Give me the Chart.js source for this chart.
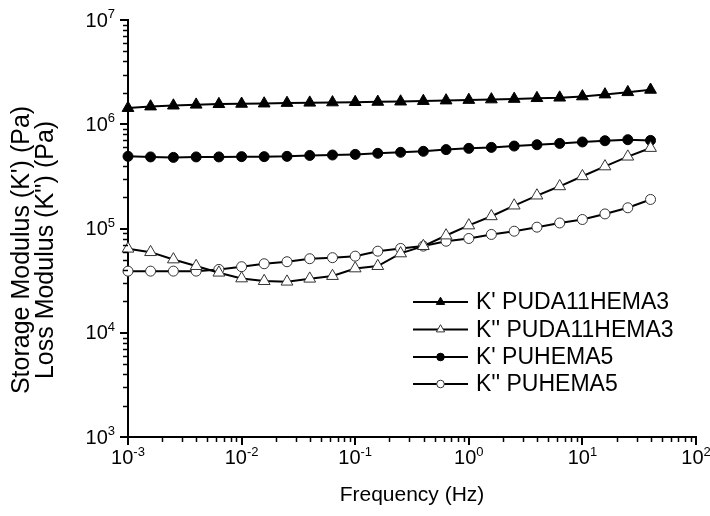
<!DOCTYPE html>
<html>
<head>
<meta charset="utf-8">
<script src="https://cdn.jsdelivr.net/npm/chart.js@4/dist/chart.umd.min.js"></script>
<style>
  html, body { margin: 0; padding: 0; background: #fff; }
  #wrap { width: 710px; height: 516px; }
</style>
</head>
<body>
<div id="wrap"><canvas id="chart" width="710" height="516"></canvas></div>
<script>
// frequency (Hz)
const freq = [0.001, 0.00158, 0.00251, 0.00398, 0.00631, 0.01, 0.0158, 0.0251, 0.0398, 0.0631,
  0.1, 0.158, 0.251, 0.398, 0.631, 1, 1.58, 2.51, 3.98, 6.31, 10, 15.8, 25.1, 39.8];

// K' PUDA11HEMA3
const kStoragePuda = [1.43e6, 1.48e6, 1.51e6, 1.54e6, 1.56e6, 1.57e6, 1.58e6, 1.60e6, 1.61e6, 1.62e6,
  1.63e6, 1.64e6, 1.65e6, 1.67e6, 1.69e6, 1.71e6, 1.73e6, 1.75e6, 1.78e6, 1.80e6, 1.85e6, 1.93e6, 2.03e6, 2.14e6];
// K'' PUDA11HEMA3
const kLossPuda = [6.40e4, 5.93e4, 5.05e4, 4.36e4, 3.77e4, 3.32e4, 3.13e4, 3.09e4, 3.30e4, 3.50e4,
  4.14e4, 4.36e4, 5.77e4, 6.78e4, 8.57e4, 1.07e5, 1.31e5, 1.66e5, 2.07e5, 2.54e5, 3.17e5, 3.94e5, 4.89e5, 5.92e5];
// K' PUHEMA5
const kStorageHema = [4.92e5, 4.86e5, 4.81e5, 4.86e5, 4.86e5, 4.89e5, 4.89e5, 4.92e5, 5.02e5, 5.07e5,
  5.14e5, 5.26e5, 5.38e5, 5.50e5, 5.71e5, 5.87e5, 6.00e5, 6.18e5, 6.36e5, 6.55e5, 6.76e5, 6.95e5, 7.11e5, 7.00e5];
// K'' PUHEMA5
const kLossHema = [3.90e4, 3.90e4, 3.90e4, 3.90e4, 4.05e4, 4.30e4, 4.59e4, 4.80e4, 5.13e4, 5.25e4,
  5.43e4, 6.06e4, 6.44e4, 6.78e4, 7.55e4, 8.02e4, 8.77e4, 9.42e4, 1.03e5, 1.13e5, 1.22e5, 1.38e5, 1.58e5, 1.90e5];

const seriesNames = ["K' PUDA11HEMA3", "K'' PUDA11HEMA3", "K' PUHEMA5", "K'' PUHEMA5"];

// decade exponents used for the tick labels
const xTickExps = [-3, -2, -1, 0, 1, 2];
const yTickExps = [3, 4, 5, 6, 7];

const yTitleLines = ["Storage Modulus (K') (Pa)", "Loss Modulus (K'') (Pa)"];
const xTitle = 'Frequency (Hz)';

const FONT = "'Liberation Sans', Arial, sans-serif";

function toPts(ys) { return freq.map((f, i) => ({x: f, y: ys[i]})); }

function logTicks(exps) {
  const t = [];
  exps.forEach((e, i) => {
    for (let m = 1; m <= 9; m++) {
      if (i === exps.length - 1 && m > 1) break;
      t.push({value: m * Math.pow(10, e), major: m === 1, label: ''});
    }
  });
  return t;
}

function series(label, ys, style, filled, r) {
  return {
    label, data: toPts(ys),
    borderColor: '#000', borderWidth: 2, tension: 0, clip: false,
    pointStyle: style, pointRadius: r, pointHoverRadius: r,
    pointBackgroundColor: filled ? '#000' : '#fff',
    pointBorderColor: filled ? '#000' : '#333',
    pointBorderWidth: 1
  };
}

// draws "10" with a raised exponent
function powText(ctx, exp, x, y, align, rise) {
  ctx.font = '20px ' + FONT;
  const w10 = ctx.measureText('10').width;
  ctx.font = '13px ' + FONT;
  const we = ctx.measureText(exp).width;
  const total = w10 + we;
  const left = align === 'center' ? x - total / 2 : x - total;
  ctx.textAlign = 'left';
  ctx.textBaseline = 'middle';
  ctx.font = '20px ' + FONT;
  ctx.fillText('10', left, y);
  ctx.font = '13px ' + FONT;
  ctx.fillText(exp, left + w10, y - rise);
}

// minor ticks, decade labels, y axis title and the line+marker legend
const extras = {
  id: 'extras',
  afterDraw(chart) {
    const ctx = chart.ctx;
    const xs = chart.scales.x, ys = chart.scales.y;
    ctx.save();
    ctx.strokeStyle = '#000';
    ctx.fillStyle = '#000';
    ctx.lineWidth = 1.5;
    xs.ticks.forEach(t => {
      const px = xs.getPixelForValue(t.value);
      if (t.major) {
        powText(ctx, String(Math.round(Math.log10(t.value))), px, 458, 'center', 5.5);
        return;
      }
      const rx = Math.round(px) + 0.5;
      ctx.beginPath(); ctx.moveTo(rx, xs.top); ctx.lineTo(rx, xs.top + 5); ctx.stroke();
    });
    ys.ticks.forEach(t => {
      const py = ys.getPixelForValue(t.value);
      if (t.major) {
        powText(ctx, String(Math.round(Math.log10(t.value))), 115, py + 1, 'right', 6.5);
        return;
      }
      const ry = Math.round(py) + 0.5;
      ctx.beginPath(); ctx.moveTo(ys.right, ry); ctx.lineTo(ys.right - 5, ry); ctx.stroke();
    });

    // y title
    ctx.font = '25px ' + FONT;
    ctx.textAlign = 'center';
    ctx.textBaseline = 'alphabetic';
    [28.5, 52.5].forEach((bx, i) => {
      ctx.save();
      ctx.translate(bx, 250);
      ctx.rotate(-Math.PI / 2);
      ctx.fillText(yTitleLines[i], 0, 0);
      ctx.restore();
    });

    // legend
    const rows = [302, 329.5, 357, 384];
    chart.data.datasets.forEach((ds, i) => {
      const y = rows[i];
      ctx.strokeStyle = '#000';
      ctx.lineWidth = 2;
      ctx.beginPath(); ctx.moveTo(413, y); ctx.lineTo(468, y); ctx.stroke();
      ctx.fillStyle = ds.pointBackgroundColor;
      ctx.strokeStyle = ds.pointBorderColor;
      ctx.lineWidth = 1;
      Chart.helpers.drawPoint(ctx, {pointStyle: ds.pointStyle, radius: ds.pointStyle === 'triangle' ? 4.8 : 3.8, rotation: 0, borderWidth: 1}, 440.5, y);
      ctx.fillStyle = '#000';
      ctx.font = '23px ' + FONT;
      ctx.textAlign = 'left';
      ctx.textBaseline = 'middle';
      ctx.fillText(ds.label, 476, y + 1);
    });
    ctx.restore();
  }
};

const axisCommon = {
  type: 'logarithmic',
  border: {display: true, color: '#000', width: 2},
  grid: {
    drawOnChartArea: false, drawTicks: true, tickLength: 8, lineWidth: 2,
    tickColor: c => (c.tick && c.tick.major) ? '#000' : 'rgba(0,0,0,0)'
  }
};

new Chart(document.getElementById('chart'), {
  type: 'line',
  data: {
    datasets: [
      series(seriesNames[0], kStoragePuda, 'triangle', true, 6.8),
      series(seriesNames[1], kLossPuda, 'triangle', false, 6.8),
      series(seriesNames[2], kStorageHema, 'circle', true, 5),
      series(seriesNames[3], kLossHema, 'circle', false, 5)
    ]
  },
  options: {
    responsive: false,
    animation: false,
    devicePixelRatio: 1,
    layout: {padding: {left: 0, right: 14, top: 20, bottom: 0}},
    plugins: {legend: {display: false}, tooltip: {enabled: false}},
    scales: {
      x: Object.assign({}, axisCommon, {
        position: 'bottom',
        min: 1e-3, max: 1e2,
        afterBuildTicks: s => { s.ticks = logTicks(xTickExps); },
        afterFit: s => { s.height = 79; },
        ticks: {autoSkip: false, maxRotation: 0, padding: 4, color: 'rgba(0,0,0,0)', font: {family: FONT, size: 18}, callback: () => ''},
        title: {display: true, text: xTitle, color: '#000', font: {family: FONT, size: 21}, padding: {top: 0, bottom: 8}}
      }),
      y: Object.assign({}, axisCommon, {
        position: 'left',
        min: 1e3, max: 1e7,
        afterBuildTicks: s => { s.ticks = logTicks(yTickExps); },
        afterFit: s => { s.width = 128; },
        ticks: {autoSkip: false, padding: 6, color: 'rgba(0,0,0,0)', font: {family: FONT, size: 18}, callback: () => ''}
      })
    }
  },
  plugins: [extras]
});
</script>
</body>
</html>
